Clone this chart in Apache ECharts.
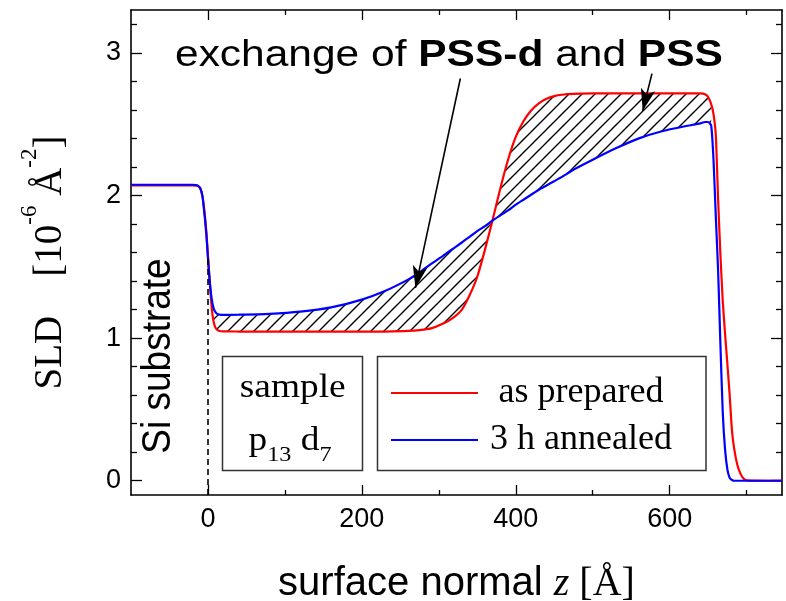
<!DOCTYPE html>
<html><head><meta charset="utf-8">
<script src="https://cdn.jsdelivr.net/npm/echarts@6/dist/echarts.min.js"></script>
<style>html,body{margin:0;padding:0;background:#fff}#c{width:786px;height:601px}</style>
</head><body><div id="c"></div><script>
// ---------- data ----------
const z = [-100, -20, -14, -10, -7, -4, -2, 0, 2, 4, 6, 8, 10, 12, 15, 20, 40, 80, 120, 160, 200, 230, 260, 275,
  290, 305, 318, 330, 340, 350, 360, 370, 380, 390, 400, 410, 420, 430, 440, 450, 460, 475, 500, 530, 560, 590,
  620, 640, 646, 650, 654, 657, 660, 663, 666, 669, 672, 675, 678, 681, 684, 688, 692, 696, 700, 746];
const asPrepared = [2.07, 2.07, 2.068, 2.05, 1.99, 1.86, 1.74, 1.58, 1.42, 1.27, 1.16, 1.10, 1.07, 1.058, 1.05, 1.047,
  1.046, 1.045, 1.045, 1.045, 1.045, 1.046, 1.05, 1.056, 1.068, 1.10, 1.14, 1.20, 1.30, 1.43, 1.62, 1.83,
  2.05, 2.25, 2.41, 2.52, 2.595, 2.645, 2.677, 2.696, 2.706, 2.712, 2.715, 2.716, 2.716, 2.716, 2.716, 2.716,
  2.71, 2.69, 2.64, 2.57, 2.42, 1.97, 1.58, 1.26, 1.03, 0.82, 0.60, 0.35, 0.22, 0.11, 0.05, 0.015, 0.003, 0];
const annealed = [2.075, 2.075, 2.072, 2.05, 1.99, 1.84, 1.72, 1.56, 1.42, 1.31, 1.24, 1.20, 1.18, 1.17, 1.165, 1.163,
  1.164, 1.17, 1.185, 1.215, 1.27, 1.33, 1.41, 1.46, 1.52, 1.575, 1.625, 1.67, 1.71, 1.75, 1.785, 1.825,
  1.86, 1.895, 1.935, 1.97, 2.005, 2.04, 2.07, 2.10, 2.13, 2.18, 2.25, 2.33, 2.40, 2.45, 2.485, 2.505,
  2.515, 2.515, 2.49, 2.25, 1.85, 1.47, 0.95, 0.48, 0.22, 0.08, 0.02, 0.005, 0, 0, 0, 0, 0, 0];
const seriesNames = ['as prepared', '3 h annealed'];
const hatchRange = [6, 654];              // z-range of the exchanged (hatched) region
const xMajorTicks = [0, 200, 400, 600];
const xMinorTicks = [100, 300, 500, 700];
const yMajorTicks = [0, 1, 2, 3];
const yMinorTicks = [0.2, 0.4, 0.6, 0.8, 1.2, 1.4, 1.6, 1.8, 2.2, 2.4, 2.6, 2.8, 3.2];
const arrow1 = [[328, 2.82], [269.6, 1.352]];
const arrow2 = [[577, 2.854], [565, 2.593]];
const substrateLine = [[0, -0.1], [0, 1.57]];

// ---------- build ----------
const redData = z.map((v, i) => [v, asPrepared[i]]);
const blueData = z.map((v, i) => [v, annealed[i]]);
const hIdx = z.map((v, i) => i).filter(i => z[i] >= hatchRange[0] && z[i] <= hatchRange[1]);
const hatchData = hIdx.map(i => [z[i], asPrepared[i], annealed[i]]);

function hatchPattern() {
  const s = 13, c = document.createElement('canvas');
  c.width = s; c.height = s;
  const g = c.getContext('2d');
  g.strokeStyle = '#000'; g.lineWidth = 1.4; g.lineCap = 'square';
  g.beginPath();
  g.moveTo(0, s); g.lineTo(s, 0);
  g.moveTo(-s / 2, s / 2); g.lineTo(s / 2, -s / 2);
  g.moveTo(s / 2, s * 1.5); g.lineTo(s * 1.5, s / 2);
  g.stroke();
  return c;
}
const PATTERN = { image: hatchPattern(), repeat: 'repeat' };

const SANS = '"Liberation Sans", Arial, sans-serif';
const SERIF = '"Liberation Serif", "Times New Roman", serif';
const XMIN = -100, XMAX = 746, YMIN = -0.1, YMAX = 3.3;

function xAx(pos, ticks, len, labels, line) {
  return {
    type: 'value', min: XMIN, max: XMAX, position: pos, gridIndex: 0,
    axisLine: { show: line, onZero: false, lineStyle: { color: '#000', width: 1.6 } },
    axisTick: { show: true, inside: true, length: len, customValues: ticks, lineStyle: { color: '#000', width: 1.3 } },
    axisLabel: labels ? { show: true, customValues: ticks, margin: 11, color: '#000', fontSize: 27, fontFamily: SANS } : { show: false },
    splitLine: { show: false }
  };
}
function yAx(pos, ticks, len, labels, line) {
  return {
    type: 'value', min: YMIN, max: YMAX, position: pos, gridIndex: 0,
    axisLine: { show: line, onZero: false, lineStyle: { color: '#000', width: 1.6 } },
    axisTick: { show: true, inside: true, length: len, customValues: ticks, lineStyle: { color: '#000', width: 1.3 } },
    axisLabel: labels ? { show: true, customValues: ticks, margin: 10, color: '#000', fontSize: 27, fontFamily: SANS } : { show: false },
    splitLine: { show: false }
  };
}

const xAxes = [
  xAx('bottom', xMajorTicks, 10, true, true),
  xAx('bottom', xMinorTicks, 5, false, false),
  xAx('top', xMajorTicks, 10, false, true),
  xAx('top', xMinorTicks, 5, false, false)
];
Object.assign(xAxes[0], {
  name: '{a|surface normal }{i|z}{b| [Å]}', nameLocation: 'middle', nameGap: 69,
  nameTextStyle: { rich: {
    a: { fontFamily: SANS, fontSize: 40, color: '#000' },
    i: { fontFamily: SERIF, fontStyle: 'italic', fontSize: 40, color: '#000' },
    b: { fontFamily: SERIF, fontSize: 40, color: '#000' } } }
});
const yAxes = [
  yAx('left', yMajorTicks, 11, true, true),
  yAx('left', yMinorTicks, 6, false, false),
  yAx('right', yMajorTicks, 11, false, true),
  yAx('right', yMinorTicks, 6, false, false)
];
Object.assign(yAxes[0], {
  name: '{r|SLD    [10}{s|-6}{r| Å}{s|-2}{e|]}', nameLocation: 'middle', nameGap: 74, nameRotate: 90,
  nameTextStyle: { rich: {
    r: { fontFamily: SERIF, fontSize: 39, lineHeight: 39, padding: [13, 0, 0, 0], verticalAlign: 'top', color: '#000' },
    e: { fontFamily: SERIF, fontSize: 39, lineHeight: 39, padding: [13, 20, 0, 0], verticalAlign: 'top', color: '#000' },
    s: { fontFamily: SERIF, fontSize: 23, lineHeight: 23, verticalAlign: 'top', color: '#000' } } }
});

const chart = echarts.init(document.getElementById('c'), null, { renderer: 'canvas' });
chart.setOption({
  animation: false,
  backgroundColor: '#fff',
  grid: { left: 131, right: 4, top: 10, bottom: 106, containLabel: false, outerBoundsMode: 'none' },
  xAxis: xAxes,
  yAxis: yAxes,
  legend: {
    data: seriesNames, orient: 'vertical', left: 391, top: 375, padding: 0,
    icon: 'rect', itemWidth: 87, itemHeight: 2, itemGap: 11, selectedMode: false,
    formatter: n => '{c|' + n + '}',
    textStyle: { color: '#000', rich: { c: { fontFamily: SERIF, fontSize: 36, lineHeight: 36, color: '#000', width: 196, align: 'center' } } }
  },
  series: [
    { type: 'custom', name: 'exchange', coordinateSystem: 'cartesian2d', xAxisIndex: 0, yAxisIndex: 0,
      silent: true, clip: true, z: 1, data: hatchData, encode: { x: 0, y: [1, 2] },
      renderItem: function (params, api) {
        if (params.dataIndex !== 0) return null;
        const top = hatchData.map(d => api.coord([d[0], d[1]]));
        const bot = hatchData.slice().reverse().map(d => api.coord([d[0], d[2]]));
        return { type: 'polygon', shape: { points: top.concat(bot) }, style: { fill: PATTERN, stroke: null } };
      } },
    { type: 'line', name: seriesNames[0], data: redData, smooth: 0.2, symbol: 'none', z: 3,
      color: '#ff0000', lineStyle: { color: '#ff0000', width: 2.2 },
      markLine: {
        silent: true, animation: false, symbol: ['none', 'arrow'], label: { show: false },
        lineStyle: { color: '#000', width: 1.6, type: 'solid' },
        emphasis: { disabled: true },
        data: [
          [{ coord: arrow1[0], symbol: 'none' }, { coord: arrow1[1], symbol: 'arrow', symbolSize: [11, 22] }],
          [{ coord: arrow2[0], symbol: 'none' }, { coord: arrow2[1], symbol: 'arrow', symbolSize: [11, 22] }],
          [{ coord: substrateLine[0], symbol: 'none', lineStyle: { type: [6, 4], width: 1.6, color: '#000' } },
           { coord: substrateLine[1], symbol: 'none' }]
        ]
      } },
    { type: 'line', name: seriesNames[1], data: blueData, smooth: 0.2, symbol: 'none', z: 4,
      color: '#0000ff', lineStyle: { color: '#0000ff', width: 2.2 } }
  ],
  graphic: [
    { type: 'rect', shape: { x: 222.5, y: 356.5, width: 140, height: 114 },
      style: { fill: 'none', stroke: '#333', lineWidth: 1.5 }, z: 10 },
    { type: 'rect', shape: { x: 377.5, y: 356.5, width: 328.5, height: 114 },
      style: { fill: 'none', stroke: '#333', lineWidth: 1.5 }, z: 10 },
    { type: 'text', x: 292.7, y: 388, scaleX: 1.1, z: 10,
      style: { text: 'sample', fontFamily: SERIF, fontSize: 34, fill: '#000',
        align: 'center', verticalAlign: 'middle', textAlign: 'center', textVerticalAlign: 'middle' } },
    { type: 'text', x: 290, y: 441, scaleX: 1.1, z: 10,
      style: { text: '{n|p}{s|13}{n| d}{s|7}', fill: '#000',
        align: 'center', verticalAlign: 'middle', textAlign: 'center', textVerticalAlign: 'middle',
        rich: {
          n: { fontFamily: SERIF, fontSize: 34, lineHeight: 34, verticalAlign: 'top', fill: '#000' },
          s: { fontFamily: SERIF, fontSize: 22, lineHeight: 22, padding: [20, 0, 0, 0], verticalAlign: 'top', fill: '#000' } } } },
    { type: 'text', x: 175, y: 56, scaleX: 1.18, z: 10,
      style: { text: '{a|exchange of }{b|PSS-d}{a| and }{b|PSS}', fill: '#000',
        align: 'left', verticalAlign: 'middle', textAlign: 'left', textVerticalAlign: 'middle',
        rich: {
          a: { fontFamily: SANS, fontSize: 36, fill: '#000' },
          b: { fontFamily: SANS, fontSize: 36, fontWeight: 'bold', fill: '#000' } } } },
    { type: 'text', x: 159, y: 356, rotation: Math.PI / 2, scaleY: 1.1, z: 10,
      style: { text: 'Si substrate', fontFamily: SANS, fontSize: 37, fill: '#000',
        align: 'center', verticalAlign: 'middle', textAlign: 'center', textVerticalAlign: 'middle' } }
  ]
});
</script></body></html>
